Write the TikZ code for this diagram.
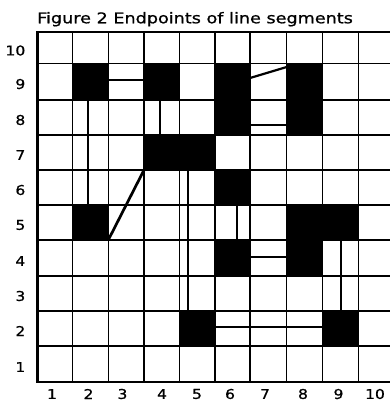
\documentclass[tikz,border=0pt]{standalone}
\usepackage{fontspec}
\newfontfamily\lblfont[FakeBold=0.8]{DejaVu Sans}
\begin{document}
\begin{tikzpicture}[x=1pt,y=-1pt,
  gridline/.style={line width=1.4pt},
  border/.style={line width=2.5pt},
  seg/.style={line width=1.7pt},
  thickseg/.style={line width=2.7pt},
  blackcell/.style={fill=black},
  lbl/.style={inner sep=0pt,font=\fontsize{13.5}{13.5}\lblfont}]
\useasboundingbox (0,0) rectangle (390,401);
\begin{scope}
\clip (0,0) rectangle (390,401);
% grid intersections p<i>-<j>, i = column line (0..10), j = row line from bottom (0..10)
\foreach \xv [count=\i from 0] in {37.3,72.3,108.3,144,179.3,215,250,286.7,322.3,358.3,394}{
  \foreach \yv [count=\j from 0] in {382,346,311,276,240,205,170,135,100,63.5,32}{
    \coordinate (p\i-\j) at (\xv,\yv);
  }
}
% black cells (col,row)
\foreach \c/\r in {2/9,4/9,6/9,6/8,8/9,8/8,4/7,5/7,6/6,2/5,8/5,9/5,8/4,6/4,5/2,9/2}{
  \pgfmathtruncatemacro{\ci}{\c-1}
  \pgfmathtruncatemacro{\ri}{\r-1}
  \fill[blackcell] (p\ci-\ri) rectangle (p\c-\r);
}
% grid lines
\foreach \i in {1,...,10}{ \draw[gridline] (p\i-0) -- (p\i-10); }
\foreach \j in {1,...,9}{ \draw[gridline] (p0-\j) -- (p10-\j); }
\draw[border] (p10-10) -- (p0-10) -- (p0-0) -- (p10-0);
% line segments
\coordinate (s1a) at (108.3,80);  \coordinate (s1b) at (144,80);
\coordinate (s2a) at (88,100);    \coordinate (s2b) at (88,205);
\coordinate (s3a) at (160,100);   \coordinate (s3b) at (160,135);
\coordinate (s5a) at (188,170);   \coordinate (s5b) at (188,311);
\coordinate (s6a) at (250,78);    \coordinate (s6b) at (286.7,67);
\coordinate (s7a) at (250,125);   \coordinate (s7b) at (286.7,125);
\coordinate (s8a) at (237,205);   \coordinate (s8b) at (237,240);
\coordinate (s9a) at (250,257);   \coordinate (s9b) at (286.7,257);
\coordinate (s10a) at (341,240);  \coordinate (s10b) at (341,311);
\coordinate (s11a) at (215,327);  \coordinate (s11b) at (322.3,327);
\draw[seg] (s1a) -- (s1b);
\draw[seg] (s2a) -- (s2b);
\draw[seg] (s3a) -- (s3b);
\draw[thickseg] (p2-4) -- (p3-6);
\draw[seg] (s5a) -- (s5b);
\draw[line width=2.2pt] (s6a) -- (s6b);
\draw[seg] (s7a) -- (s7b);
\draw[seg] (s8a) -- (s8b);
\draw[seg] (s9a) -- (s9b);
\draw[seg] (s10a) -- (s10b);
\draw[seg] (s11a) -- (s11b);
\end{scope}
% title
\node[inner sep=0pt,anchor=base west] (title) at (37,23.3)
  {\scalebox{1.19}[1]{\fontsize{14.8}{14.8}\lblfont Figure 2 Endpoints of line segments}};
% row labels
\foreach \r/\yc in {10/50.5,9/84,8/120,7/155,6/190,5/225,4/261,3/296,2/331,1/367}{
  \node[lbl,anchor=east] (row\r) at (25.5,\yc) {\scalebox{1.15}[1]{\r}};
}
% column labels
\foreach \c/\xc in {1/52,2/88.5,3/122.5,4/162,5/197,6/230,7/265,8/303,9/338.5,10/375}{
  \node[lbl] (col\c) at (\xc,394) {\scalebox{1.15}[1]{\c}};
}
\end{tikzpicture}
\end{document}
